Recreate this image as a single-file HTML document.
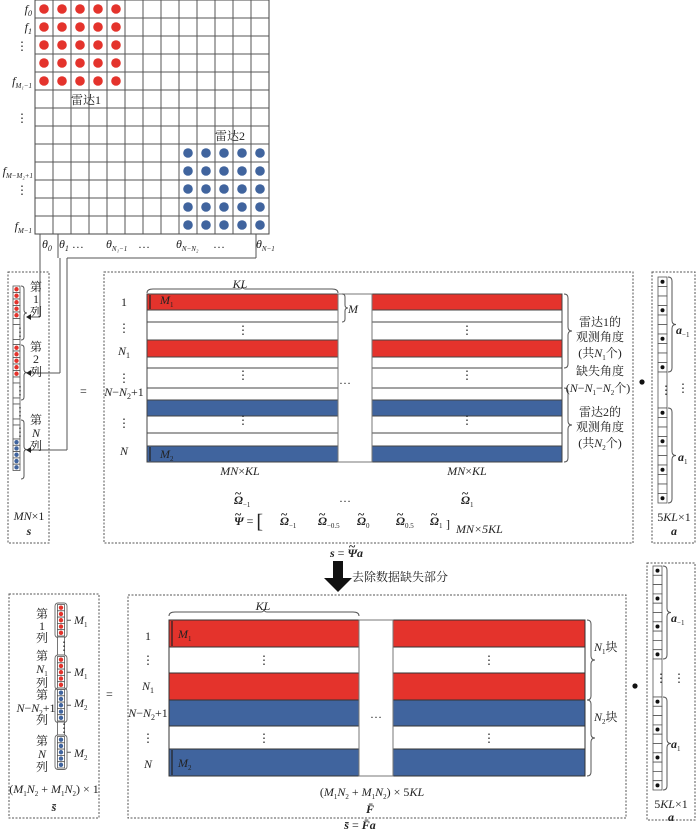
<!DOCTYPE html>
<html><head><meta charset="utf-8">
<style>
html,body{margin:0;padding:0;background:#fff}
svg{display:block}
text{font-family:"Liberation Serif","Noto Serif CJK SC",serif;font-size:12px;fill:#222}
.i{font-style:italic}
.b{font-weight:bold}
</style></head><body>
<svg id="s" width="700" height="832" viewBox="0 0 700 832" xmlns="http://www.w3.org/2000/svg">
<g id="shapes"></g>
<g text-anchor="end">
<text x="32" y="13" class="i">f<tspan font-size="8" dy="3">0</tspan></text>
<text x="32" y="31" class="i">f<tspan font-size="8" dy="3">1</tspan></text>
<text x="28" y="50">⋮</text>
<text x="32" y="85" class="i">f<tspan font-size="7" dy="3">M₁−1</tspan></text>
<text x="28" y="122">⋮</text>
<text x="33" y="175" class="i">f<tspan font-size="7" dy="3">M−M₂+1</tspan></text>
<text x="28" y="194">⋮</text>
<text x="32" y="230" class="i">f<tspan font-size="7" dy="3">M−1</tspan></text>
</g>
<text x="71" y="104" font-size="13">雷达1</text>
<text x="215" y="140" font-size="13">雷达2</text>
<text x="42" y="248" class="i">θ<tspan font-size="8" dy="3">0</tspan></text>
<text x="59" y="248" class="i">θ<tspan font-size="8" dy="3">1</tspan><tspan dy="-3" font-style="normal"> …</tspan></text>
<text x="106" y="248" class="i">θ<tspan font-size="7" dy="3">N₁−1</tspan></text>
<text x="138" y="248">…</text>
<text x="176" y="248" class="i">θ<tspan font-size="7" dy="3">N−N₂</tspan></text>
<text x="213" y="248">…</text>
<text x="256" y="248" class="i">θ<tspan font-size="7" dy="3">N−1</tspan></text>

<g font-size="12" text-anchor="middle">
<text x="36" y="291">第</text><text x="36" y="303">1</text><text x="36" y="316">列</text>
<text x="36" y="351">第</text><text x="36" y="363">2</text><text x="36" y="376">列</text>
<text x="36" y="424">第</text><text x="36" y="437" class="i">N</text><text x="36" y="450">列</text>
<text x="29" y="520" class="i">MN<tspan font-style="normal">×1</tspan></text>
<text x="29" y="535" class="i b">s</text>
</g>
<text x="80" y="395">=</text>

<text x="240" y="288" class="i" text-anchor="middle">KL</text>
<g text-anchor="middle">
<text x="124" y="306">1</text>
<text x="124" y="332">⋮</text>
<text x="124" y="355" class="i">N<tspan font-size="8" dy="3" font-style="normal">1</tspan></text>
<text x="124" y="382">⋮</text>
<text x="124" y="396" class="i">N<tspan font-style="normal">−</tspan>N<tspan font-size="8" dy="3" font-style="normal">2</tspan><tspan dy="-3" font-style="normal">+1</tspan></text>
<text x="124" y="427">⋮</text>
<text x="124" y="455" class="i">N</text>
<text x="243" y="334">⋮</text>
<text x="243" y="379">⋮</text>
<text x="243" y="424">⋮</text>
<text x="467" y="334">⋮</text>
<text x="467" y="379">⋮</text>
<text x="467" y="424">⋮</text>
<text x="345" y="384">…</text>
<text x="240" y="475" class="i">MN<tspan font-style="normal">×</tspan>KL</text>
<text x="467" y="475" class="i">MN<tspan font-style="normal">×</tspan>KL</text>
<text x="345" y="502">…</text>
</g>
<g class="i b">
<text x="234" y="504">Ω<tspan font-size="7" dy="3" font-style="normal" font-weight="normal">−1</tspan></text>
<text x="235" y="497" font-size="9" font-style="normal">~</text>
<text x="461" y="504">Ω<tspan font-size="7" dy="3" font-style="normal" font-weight="normal">1</tspan></text>
<text x="462" y="497" font-size="9" font-style="normal">~</text>
</g>
<text x="160" y="304" class="i" font-size="11">M<tspan font-size="7" dy="3" font-style="normal">1</tspan></text>
<text x="160" y="458" class="i" font-size="11">M<tspan font-size="7" dy="3" font-style="normal">2</tspan></text>
<text x="348" y="313" class="i">M</text>
<text x="234" y="525" class="i b">Ψ <tspan font-style="normal" font-weight="normal">= </tspan><tspan font-size="20" font-style="normal" font-weight="normal" dy="3">[</tspan></text>
<text x="235" y="518" font-size="9" class="b">~</text>
<g font-style="italic" font-weight="bold">
<text x="280" y="525">Ω<tspan font-size="7" dy="3" font-style="normal" font-weight="normal">−1</tspan></text>
<text x="318" y="525">Ω<tspan font-size="7" dy="3" font-style="normal" font-weight="normal">−0.5</tspan></text>
<text x="357" y="525">Ω<tspan font-size="7" dy="3" font-style="normal" font-weight="normal">0</tspan></text>
<text x="396" y="525">Ω<tspan font-size="7" dy="3" font-style="normal" font-weight="normal">0.5</tspan></text>
<text x="430" y="525">Ω<tspan font-size="7" dy="3" font-style="normal" font-weight="normal">1</tspan></text>
</g>
<g font-size="9" font-style="normal" font-weight="bold">
<text x="281" y="518">~</text><text x="319" y="518">~</text><text x="358" y="518">~</text><text x="397" y="518">~</text><text x="431" y="518">~</text>
</g>
<text x="446" y="528" font-size="20">]</text>
<text x="456" y="533" font-size="6" class="i">MN×5KL</text>
<g text-anchor="middle" font-size="12">
<text x="600" y="326">雷达1的</text>
<text x="600" y="341">观测角度</text>
<text x="600" y="357">(共<tspan class="i">N</tspan><tspan font-size="7" dy="3">1</tspan><tspan dy="-3">个)</tspan></text>
<text x="600" y="375">缺失角度</text>
<text x="598" y="392">(<tspan class="i">N</tspan>−<tspan class="i">N</tspan><tspan font-size="7" dy="3">1</tspan><tspan dy="-3">−</tspan><tspan class="i">N</tspan><tspan font-size="7" dy="3">2</tspan><tspan dy="-3">个)</tspan></text>
<text x="600" y="416">雷达2的</text>
<text x="600" y="431">观测角度</text>
<text x="600" y="447">(共<tspan class="i">N</tspan><tspan font-size="7" dy="3">2</tspan><tspan dy="-3">个)</tspan></text>
</g>
<circle cx="642" cy="382" r="2.6" fill="#111"/>
<text x="676" y="334" class="i b" font-size="11">a<tspan font-size="7" dy="3" font-style="normal" font-weight="normal">−1</tspan></text>
<text x="677" y="392">⋮</text>
<text x="678" y="461" class="i b" font-size="11">a<tspan font-size="7" dy="3" font-style="normal" font-weight="normal">1</tspan></text>
<text x="674" y="521" text-anchor="middle" font-size="11">5<tspan class="i">KL</tspan>×1</text>
<text x="674" y="535" text-anchor="middle" class="i b">a</text>

<text x="330" y="557" class="i b">s <tspan font-style="normal" font-weight="normal">= </tspan>Ψa</text>
<text x="349" y="550" font-size="9" class="b">~</text>
<text x="352" y="581" font-size="12">去除数据缺失部分</text>

<g font-size="12" text-anchor="middle">
<text x="42" y="618">第</text><text x="42" y="630">1</text><text x="42" y="642">列</text>
<text x="42" y="660">第</text><text x="42" y="673" class="i">N<tspan font-size="7" dy="3" font-style="normal">1</tspan></text><text x="42" y="687">列</text>
<text x="42" y="699">第</text><text x="36" y="712" class="i">N<tspan font-style="normal">−</tspan>N<tspan font-size="7" dy="3" font-style="normal">2</tspan><tspan dy="-3" font-style="normal">+1</tspan></text><text x="42" y="724">列</text>
<text x="42" y="745">第</text><text x="42" y="758" class="i">N</text><text x="42" y="771">列</text>
<text x="54" y="793" class="i"><tspan font-style="normal">(</tspan>M<tspan font-size="7" dy="3" font-style="normal">1</tspan><tspan dy="-3">N</tspan><tspan font-size="7" dy="3" font-style="normal">2</tspan><tspan dy="-3" font-style="normal"> + </tspan>M<tspan font-size="7" dy="3" font-style="normal">1</tspan><tspan dy="-3">N</tspan><tspan font-size="7" dy="3" font-style="normal">2</tspan><tspan dy="-3" font-style="normal">) × 1</tspan></text>
<text x="54" y="811" class="i b">s̄</text>
</g>
<g class="i" font-size="11">
<text x="74" y="624">M<tspan font-size="7" dy="3" font-style="normal">1</tspan></text>
<text x="74" y="676">M<tspan font-size="7" dy="3" font-style="normal">1</tspan></text>
<text x="74" y="707">M<tspan font-size="7" dy="3" font-style="normal">2</tspan></text>
<text x="74" y="757">M<tspan font-size="7" dy="3" font-style="normal">2</tspan></text>
</g>
<text x="106" y="698">=</text>

<text x="263" y="610" class="i" text-anchor="middle">KL</text>
<g text-anchor="middle">
<text x="148" y="640">1</text>
<text x="148" y="664">⋮</text>
<text x="148" y="690" class="i">N<tspan font-size="8" dy="3" font-style="normal">1</tspan></text>
<text x="148" y="717" class="i">N<tspan font-style="normal">−</tspan>N<tspan font-size="8" dy="3" font-style="normal">2</tspan><tspan dy="-3" font-style="normal">+1</tspan></text>
<text x="148" y="742">⋮</text>
<text x="148" y="768" class="i">N</text>
<text x="264" y="664">⋮</text>
<text x="264" y="742">⋮</text>
<text x="489" y="664">⋮</text>
<text x="489" y="742">⋮</text>
<text x="376" y="718">…</text>
<text x="372" y="796" class="i"><tspan font-style="normal">(</tspan>M<tspan font-size="7" dy="3" font-style="normal">1</tspan><tspan dy="-3">N</tspan><tspan font-size="7" dy="3" font-style="normal">2</tspan><tspan dy="-3" font-style="normal"> + </tspan>M<tspan font-size="7" dy="3" font-style="normal">1</tspan><tspan dy="-3">N</tspan><tspan font-size="7" dy="3" font-style="normal">2</tspan><tspan dy="-3" font-style="normal">) × 5</tspan>KL</text>
<text x="370" y="813" class="i b">F̄</text>
<text x="360" y="829" class="i b">s̄ <tspan font-style="normal" font-weight="normal">= </tspan>F̄a</text>
</g>
<text x="178" y="638" class="i" font-size="11">M<tspan font-size="7" dy="3" font-style="normal">1</tspan></text>
<text x="178" y="767" class="i" font-size="11">M<tspan font-size="7" dy="3" font-style="normal">2</tspan></text>
<text x="594" y="651"><tspan class="i">N</tspan><tspan font-size="7" dy="3">1</tspan><tspan dy="-3">块</tspan></text>
<text x="594" y="721"><tspan class="i">N</tspan><tspan font-size="7" dy="3">2</tspan><tspan dy="-3">块</tspan></text>
<circle cx="635" cy="686" r="2.6" fill="#111"/>
<text x="671" y="622" class="i b" font-size="11">a<tspan font-size="7" dy="3" font-style="normal" font-weight="normal">−1</tspan></text>
<text x="673" y="682">⋮</text>
<text x="671" y="748" class="i b" font-size="11">a<tspan font-size="7" dy="3" font-style="normal" font-weight="normal">1</tspan></text>
<text x="671" y="808" text-anchor="middle" font-size="11">5<tspan class="i">KL</tspan>×1</text>
<text x="671" y="821" text-anchor="middle" class="i b">a</text>
</svg>
<script>
var g=document.getElementById('shapes'),NS='http://www.w3.org/2000/svg';
function el(t,a){var e=document.createElementNS(NS,t);for(var k in a)e.setAttribute(k,a[k]);g.appendChild(e);return e;}
function rect(x,y,w,h,f,s,sw,da){return el('rect',{x:x,y:y,width:w,height:h,fill:f||'none',stroke:s||'none','stroke-width':sw||1,'stroke-dasharray':da||''});}
function line(x1,y1,x2,y2,s,sw){el('line',{x1:x1,y1:y1,x2:x2,y2:y2,stroke:s||'#555','stroke-width':sw||1});}
function circ(x,y,r,f){el('circle',{cx:x,cy:y,r:r,fill:f});}
function braceR(x,y1,y2,w){w=w||4;var m=(y1+y2)/2;el('path',{d:'M'+x+' '+y1+' Q'+(x+w)+' '+y1+' '+(x+w)+' '+(y1+w)+' L'+(x+w)+' '+(m-w)+' Q'+(x+w)+' '+m+' '+(x+2*w)+' '+m+' Q'+(x+w)+' '+m+' '+(x+w)+' '+(m+w)+' L'+(x+w)+' '+(y2-w)+' Q'+(x+w)+' '+y2+' '+x+' '+y2,fill:'none',stroke:'#555','stroke-width':1});}
function braceT(x1,x2,y){var m=(x1+x2)/2;el('path',{d:'M'+x1+' '+(y+4)+' Q'+x1+' '+y+' '+(x1+6)+' '+y+' L'+(m-3)+' '+y+' Q'+m+' '+y+' '+m+' '+(y-3)+' Q'+m+' '+y+' '+(m+3)+' '+y+' L'+(x2-6)+' '+y+' Q'+x2+' '+y+' '+x2+' '+(y+4),fill:'none',stroke:'#555','stroke-width':1});}
var RED='#e4332c',BLUE='#40649e',DASH='2,1.5';
var gx=35,gy=0,c=18;
rect(gx,gy,234,234,'#fff','#444',1);
for(var i=1;i<13;i++){line(gx+i*c,gy,gx+i*c,gy+234,'#555',1);line(gx,gy+i*c,gx+234,gy+i*c,'#555',1);}
for(var r=0;r<5;r++)for(var k=0;k<5;k++){circ(gx+k*c+9,gy+r*c+9,4.8,RED);circ(gx+(k+8)*c+9,gy+(r+8)*c+9,4.8,BLUE);}
line(40,234,40,317,'#555');line(58,234,58,258,'#555');
line(67,258,256,258,'#555');line(256,234,256,258,'#555');
line(60,258,60,373,'#555');line(67,258,67,450,'#555');
line(28,317,40,317,'#555');line(28,373,60,373,'#555');line(28,450,67,450,'#555');
[317,373,450].forEach(function(y){el('path',{d:'M26 '+y+' l5 -3 l0 6 z',fill:'#222'});});
rect(8,272,41,271,'none','#555',1,DASH);
function cells(x,y,n,w,h,dot){for(var i=0;i<n;i++){rect(x,y+i*h,w,h,'#fff','#555',0.8);if(dot)circ(x+w/2,y+i*h+h/2,2.2,dot);}return y+n*h;}
function vd(x,y,h){rect(x,y,7,h,'#fff','#555',0.8);var t=el('text',{x:x+1,y:y+h/2+4,'font-size':9});t.textContent='⋮';return y+h;}
var y=286;y=cells(13,y,5,7,6.5,RED);y=cells(13,y,1,7,6);y=vd(13,y,15);y=cells(13,y,1,7,5);
y=cells(13,y,5,7,6.5,RED);y=cells(13,y,1,7,6);y=vd(13,y,15);y=cells(13,y,1,7,6);
y=vd(13,y,15);y=cells(13,y,1,7,6);
y=vd(13,y,14);y=cells(13,y,5,7,6.3,BLUE);
braceR(21,286,340,3);braceR(21,345,400,3);braceR(21,420,479,3);
rect(104,272,529,271,'none','#555',1,DASH);
var rows=[[294,310,RED],[310,322,'#fff'],[322,340,'#fff'],[340,357,RED],[357,368,'#fff'],[368,388,'#fff'],[388,400,'#fff'],[400,416,BLUE],[416,433,'#fff'],[433,446,'#fff'],[446,462,BLUE]];
[[147,338],[372,562]].forEach(function(p){rows.forEach(function(r){rect(p[0],r[0],p[1]-p[0],r[1]-r[0],r[2],'#444',1);});});
rect(338,294,34,168,'#fff','#777',1);
line(150,295,150,309,'#222',1.2);line(150,447,150,461,'#222',1.2);
braceT(147,338,289);
braceR(342,294,322,3);
braceR(564,294,368,4);braceR(564,388,462,4);
rect(652,272,43,271,'none','#555',1,DASH);
function acol(x,y0,h,gap){var y=y0;function c(n){for(var i=0;i<n;i++){rect(x,y,9,h,'#fff','#555',0.8);if(i%3==0)circ(x+4.5,y+h/2,2,'#111');y+=h;}}
var s1=y;c(10);var e1=y;rect(x,y,9,gap,'#fff','#555',0.8);var t=el('text',{x:x+2,y:y+gap/2+4,'font-size':10});t.textContent='⋮';y+=gap;var s2=y;c(10);braceR(x+10,s1,e1,4);braceR(x+10,s2,y,4);}
acol(658,277,9.5,36);
el('path',{d:'M333 561 L343 561 L343 578 L352 578 L338 592 L324 578 L333 578 Z',fill:'#111'});
rect(9,594,90,224,'none','#555',1,DASH);
function grp(y,n,color){rect(55,y,12,n*6.3+3,'none','#666',0.9).setAttribute('rx',3);var yy=y+1.5;for(var i=0;i<n;i++){rect(57.5,yy,7,6.3,'#fff','#555',0.8);circ(61,yy+3.15,2.2,color);yy+=6.3;}line(67,y+(n*6.3+3)/2,71,y+(n*6.3+3)/2,'#555');}
grp(603,5,RED);rect(57.5,637,7,18,'#fff','#555',0.8);el('text',{x:58,y:650,'font-size':9}).textContent='⋮';
grp(655,5,RED);grp(688,5,BLUE);rect(57.5,722,7,13,'#fff','#555',0.8);el('text',{x:58,y:732,'font-size':9}).textContent='⋮';
grp(735,5,BLUE);
rect(128,595,498,223,'none','#555',1,DASH);
var rows2=[[620,647,RED],[647,673,'#fff'],[673,700,RED],[700,726,BLUE],[726,749,'#fff'],[749,776,BLUE]];
[[169,359],[393,585]].forEach(function(p){rows2.forEach(function(r){rect(p[0],r[0],p[1]-p[0],r[1]-r[0],r[2],'#333',1);});});
rect(359,620,34,156,'#fff','#777',1);
line(172,621,172,646,'#222',1.2);line(172,750,172,775,'#222',1.2);
braceT(169,359,612);
braceR(587,620,700,4);braceR(587,700,776,4);
rect(647,563,48,257,'none','#555',1,DASH);
acol(653,566,9.3,38);
</script>
</body></html>
